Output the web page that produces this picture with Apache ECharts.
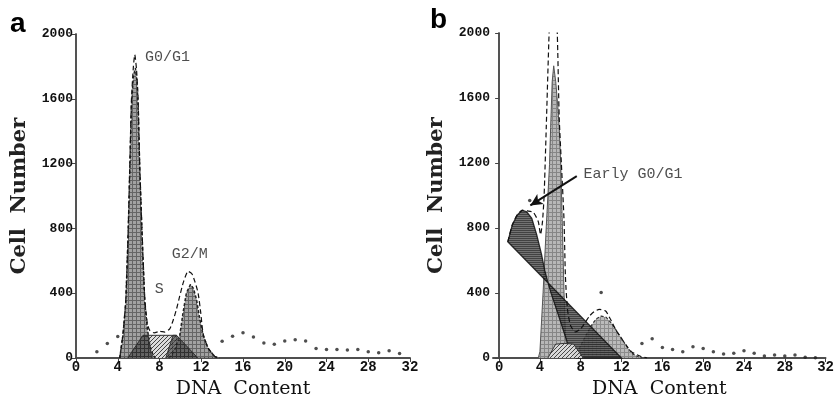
<!DOCTYPE html>
<html>
<head>
<meta charset="UTF-8">
<title>Cell cycle DNA content</title>
<script src="https://cdn.jsdelivr.net/npm/echarts@6/dist/echarts.min.js"></script>
<style>
  body { margin: 0; background: #fff; }
  #main { width: 837px; height: 404px; }
</style>
</head>
<body>
<div id="main"></div>
<script>
// ticks
var xTicks = [0, 4, 8, 12, 16, 20, 24, 28, 32];
var yTicks = [0, 400, 800, 1200, 1600, 2000];

// panel a
var aG1X = [4.19, 4.5, 4.77, 4.99, 5.15, 5.31, 5.5, 5.69, 5.85, 5.95, 6.11, 6.33, 6.59, 6.84, 7.07, 7.38, 7.6];
var aG1Y = [0, 140, 342, 748, 1153, 1558, 1740, 1790, 1700, 1558, 1153, 748, 342, 180, 79, 18, 0];
var aG2X = [8.9, 9.4, 9.63, 9.94, 10.26, 10.58, 10.97, 11.25, 11.54, 11.86, 12.18, 12.66, 13.3, 13.75];
var aG2Y = [0, 40, 79, 140, 281, 403, 454, 430, 363, 241, 140, 59, 8, 0];
var aSX = [4.96, 6.42, 9.63, 11.67];
var aSY = [0, 140, 140, 0];
var aSLeftX = [4.96, 6.42, 6.9, 7.25];
var aSLeftY = [0, 140, 140, 0];
var aSRightX = [8.6, 9.3, 9.63, 11.67];
var aSRightY = [0, 140, 140, 0];
var aFitX = [4.19, 4.5, 4.77, 4.99, 5.15, 5.31, 5.5, 5.63, 5.8, 5.95, 6.11, 6.33, 6.59, 6.84, 7.07, 7.5, 8.0, 8.5, 8.98, 9.3, 9.63, 9.94, 10.3, 10.74, 11.1, 11.4, 11.7, 11.95, 12.18, 12.66, 13.3, 13.75];
var aFitY = [0, 150, 360, 770, 1180, 1590, 1800, 1872, 1780, 1600, 1190, 780, 370, 210, 170, 155, 165, 160, 180, 231, 302, 383, 470, 535, 520, 470, 400, 280, 150, 62, 10, 0];
var aDotX = [2, 3, 4, 14, 15, 16, 17, 18, 19, 20, 21, 22, 23, 24, 25, 26, 27, 28, 29, 30, 31];
var aDotY = [38, 90, 132, 103, 134, 156, 130, 93, 85, 105, 113, 105, 59, 53, 53, 49, 53, 38, 32, 45, 28];

// panel b
var bG1X = [3.84, 4.0, 4.31, 4.62, 4.94, 5.05, 5.2, 5.35, 5.55, 5.75, 5.89, 6.04, 6.2, 6.36, 6.5, 6.67, 6.86];
var bG1Y = [0, 40, 405, 807, 1191, 1419, 1700, 1798, 1700, 1550, 1419, 1191, 807, 405, 150, 40, 0];
var bEarlyX = [0.85, 1.29, 1.76, 2.26, 2.7, 3.2, 3.68, 4.15, 4.47, 4.72, 5.09, 5.73, 6.67, 7.14, 7.6, 12.0];
var bEarlyY = [715, 819, 879, 909, 900, 860, 759, 639, 539, 479, 399, 279, 99, 19, 0, 0];
var bSX = [4.78, 5.54, 6.4, 7.3, 8.25];
var bSY = [0, 85, 90, 85, 0];
var bG2X = [7.4, 8.1, 8.6, 9.03, 9.5, 10.0, 10.5, 11.0, 11.39, 12.0, 12.64, 13.1, 13.58, 14.0];
var bG2Y = [0, 90, 150, 199, 240, 258, 250, 215, 179, 120, 59, 25, 9, 0];
var bFitX = [0.85, 1.29, 1.76, 2.26, 2.8, 3.37, 3.84, 4.06, 4.25, 4.41, 4.62, 4.9, 5.3, 5.7, 5.89, 6.1, 6.36, 6.5, 6.7, 7.0, 7.5, 8.0, 8.5, 8.87, 9.3, 9.81, 10.44, 10.9, 11.39, 12.0, 12.5, 12.96, 13.9, 14.5];
var bFitY = [715, 819, 879, 909, 905, 895, 839, 759, 839, 999, 1419, 2000, 2600, 2000, 1479, 1200, 850, 500, 300, 200, 160, 180, 225, 259, 285, 299, 289, 240, 179, 120, 75, 39, 9, 0];
var bDotX = [3, 10, 14, 15, 16, 17, 18, 19, 20, 21, 22, 23, 24, 25, 26, 27, 28, 29, 30, 31];
var bDotY = [969, 403, 89, 119, 65, 53, 39, 69, 59, 39, 25, 29, 45, 29, 13, 19, 13, 19, 5, 2];

function zip(xs, ys) {
  return xs.map(function (x, i) { return [x, ys[i]]; });
}

// small canvas patterns for the hatched fills
function pat(bg, fg, kind) {
  var c = document.createElement('canvas');
  c.width = 4; c.height = 4;
  var g = c.getContext('2d');
  g.fillStyle = bg; g.fillRect(0, 0, 4, 4);
  g.fillStyle = fg;
  if (kind === 'grid') { g.fillRect(0, 0, 4, 1); g.fillRect(0, 0, 1, 4); }
  else if (kind === 'diag') { for (var i = 0; i < 4; i++) g.fillRect(i, 3 - i, 1, 1); }
  else if (kind === 'hline') { g.fillRect(0, 0, 4, 1); g.fillRect(0, 2, 4, 1); }
  return { image: c, repeat: 'repeat' };
}
var patA = pat('#929292', '#4a4a4a', 'grid');
var patADark = pat('#4e4e4e', '#222', 'grid');
var patLight = pat('#dcdcdc', '#444', 'diag');
var patB = pat('#b4b4b4', '#808080', 'grid');
var patEarly = pat('#5a5a5a', '#222', 'hline');

var monoFont = 'Liberation Mono';
var axisCol = '#444';
var plain = function (v) { return String(v); };

function filled(name, xi, xs, ys, fill, op, line, z) {
  return {
    name: name, type: 'line', xAxisIndex: xi, yAxisIndex: xi, z: z || 2,
    data: zip(xs, ys), symbol: 'none', silent: true,
    lineStyle: line || { color: '#333', width: 1 },
    areaStyle: { color: fill, opacity: op }
  };
}
function fit(name, xi, xs, ys) {
  return {
    name: name, type: 'line', xAxisIndex: xi, yAxisIndex: xi, z: 6,
    data: zip(xs, ys), symbol: 'none', silent: true, smooth: 0.2,
    lineStyle: { color: '#111', width: 1.2, type: [5, 3] }
  };
}
function dots(xi, xs, ys) {
  return {
    type: 'scatter', xAxisIndex: xi, yAxisIndex: xi, silent: true, z: 7,
    data: zip(xs, ys), symbolSize: 3.5, itemStyle: { color: '#222' }
  };
}
function note(xi, x, y, text, extra) {
  var s = {
    type: 'scatter', xAxisIndex: xi, yAxisIndex: xi, silent: true, symbolSize: 0, z: 8,
    data: [{ value: [x, y], name: text }],
    label: { show: true, position: 'right', distance: 0, formatter: '{b}',
      fontFamily: monoFont, fontSize: 15, color: '#222' }
  };
  if (extra) s.markLine = extra;
  return s;
}

function xAxes(gi, min) {
  return [{
    type: 'value', gridIndex: gi, min: min, max: 32,
    name: 'DNA  Content', nameLocation: 'middle', nameGap: 22,
    nameTextStyle: { fontFamily: 'DejaVu Serif', fontSize: 19, color: '#111' },
    axisLine: { lineStyle: { color: axisCol, width: 1.6 } },
    axisTick: { customValues: xTicks, length: 3, lineStyle: { color: axisCol } },
    axisLabel: { customValues: xTicks, margin: 2, formatter: plain, fontFamily: monoFont, fontWeight: 'bold', fontSize: 14, color: '#111' },
    splitLine: { show: false }
  }, {
    type: 'value', gridIndex: gi, min: min, max: 32, position: 'top',
    axisLine: { lineStyle: { color: axisCol, width: 1.6 } },
    axisTick: { customValues: xTicks, inside: true, length: 4, lineStyle: { color: axisCol } },
    axisLabel: { show: false }, splitLine: { show: false }
  }];
}
function yAxes(gi) {
  return [{
    type: 'value', gridIndex: gi, min: 0, max: 2000, interval: 400,
    name: 'Cell  Number', nameLocation: 'middle', nameGap: 46,
    nameTextStyle: { fontFamily: 'DejaVu Serif', fontWeight: 'bold', fontSize: 21, color: '#222' },
    axisLine: { lineStyle: { color: '#777', width: 1.6 } },
    axisTick: { length: 3, lineStyle: { color: axisCol } },
    axisLabel: { margin: 3, formatter: plain, fontFamily: monoFont, fontWeight: 'bold', fontSize: 13, color: '#111' },
    splitLine: { show: false }
  }, {
    type: 'value', gridIndex: gi, min: 0, max: 2000, interval: 400, position: 'right',
    axisLine: { lineStyle: { color: axisCol, width: 1.6 } },
    axisTick: { inside: true, length: 4, lineStyle: { color: axisCol } },
    axisLabel: { show: false }, splitLine: { show: false }
  }];
}

var xa = xAxes(0, 0), xb = xAxes(1, -0.6);
var ya = yAxes(0), yb = yAxes(1);

var option = {
  animation: false,
  backgroundColor: '#fff',
  grid: [
    { left: 76, top: 34, width: 334, height: 329 },
    { left: 493, top: 33, width: 345, height: 334 }
  ],
  // bottom/left axes carry index 0,1 ; top/right ones 2,3
  xAxis: [xa[0], xb[0], xa[1], xb[1]],
  yAxis: [ya[0], yb[0], ya[1], yb[1]],
  graphic: [
    { type: 'text', left: 10, top: 10, style: { text: 'a', fontFamily: 'Liberation Sans', fontWeight: 'bold', fontSize: 28, fill: '#000' } },
    { type: 'text', left: 430, top: 6, style: { text: 'b', fontFamily: 'Liberation Sans', fontWeight: 'bold', fontSize: 28, fill: '#000' } }
  ],
  series: [
    // panel a
    filled('S', 0, aSX, aSY, patLight, 1, { color: '#333', width: 1 }, 2),
    filled('G0/G1', 0, aG1X, aG1Y, patA, 0.85, { color: '#222', width: 1.5, type: [3, 2] }, 3),
    filled('G2/M', 0, aG2X, aG2Y, patA, 0.85, { color: '#222', width: 1.5, type: [3, 2] }, 3),
    filled('S left', 0, aSLeftX, aSLeftY, patADark, 0.7, { color: '#333', width: 1 }, 5),
    filled('S right', 0, aSRightX, aSRightY, patADark, 0.7, { color: '#333', width: 1 }, 5),
    fit('fit a', 0, aFitX, aFitY),
    dots(0, aDotX, aDotY),
    note(0, 6.6, 1860, 'G0/G1'),
    note(0, 9.18, 644, 'G2/M'),
    note(0, 7.55, 425, 'S'),
    // panel b
    filled('G0/G1 b', 1, bG1X, bG1Y, patB, 0.95, { color: '#555', width: 1 }, 2),
    filled('G2/M b', 1, bG2X, bG2Y, patB, 0.9, { color: '#333', width: 1.2, type: [3, 2] }, 2),
    {
      name: 'Early G0/G1', type: 'custom', xAxisIndex: 1, yAxisIndex: 1, silent: true, z: 4,
      data: [[0, 0]],
      renderItem: function (params, api) {
        var pts = bEarlyX.map(function (x, i) { return api.coord([x, bEarlyY[i]]); });
        return {
          type: 'polygon', shape: { points: pts },
          style: { fill: patEarly, stroke: '#111', lineWidth: 1.3, opacity: 0.85 }
        };
      }
    },
    filled('S b', 1, bSX, bSY, patLight, 0.95, { color: '#333', width: 1 }, 5),
    fit('fit b', 1, bFitX, bFitY),
    dots(1, bDotX, bDotY),
    note(1, 8.27, 1131, 'Early G0/G1', {
      silent: true, symbol: ['none', 'arrow'], symbolSize: [9, 12],
      label: { show: false },
      lineStyle: { color: '#111', width: 2, type: 'solid' },
      data: [[{ coord: [7.61, 1119] }, { coord: [3.06, 939] }]]
    })
  ]
};

var myChart = echarts.init(document.getElementById('main'));
myChart.setOption(option);
</script>
</body>
</html>
